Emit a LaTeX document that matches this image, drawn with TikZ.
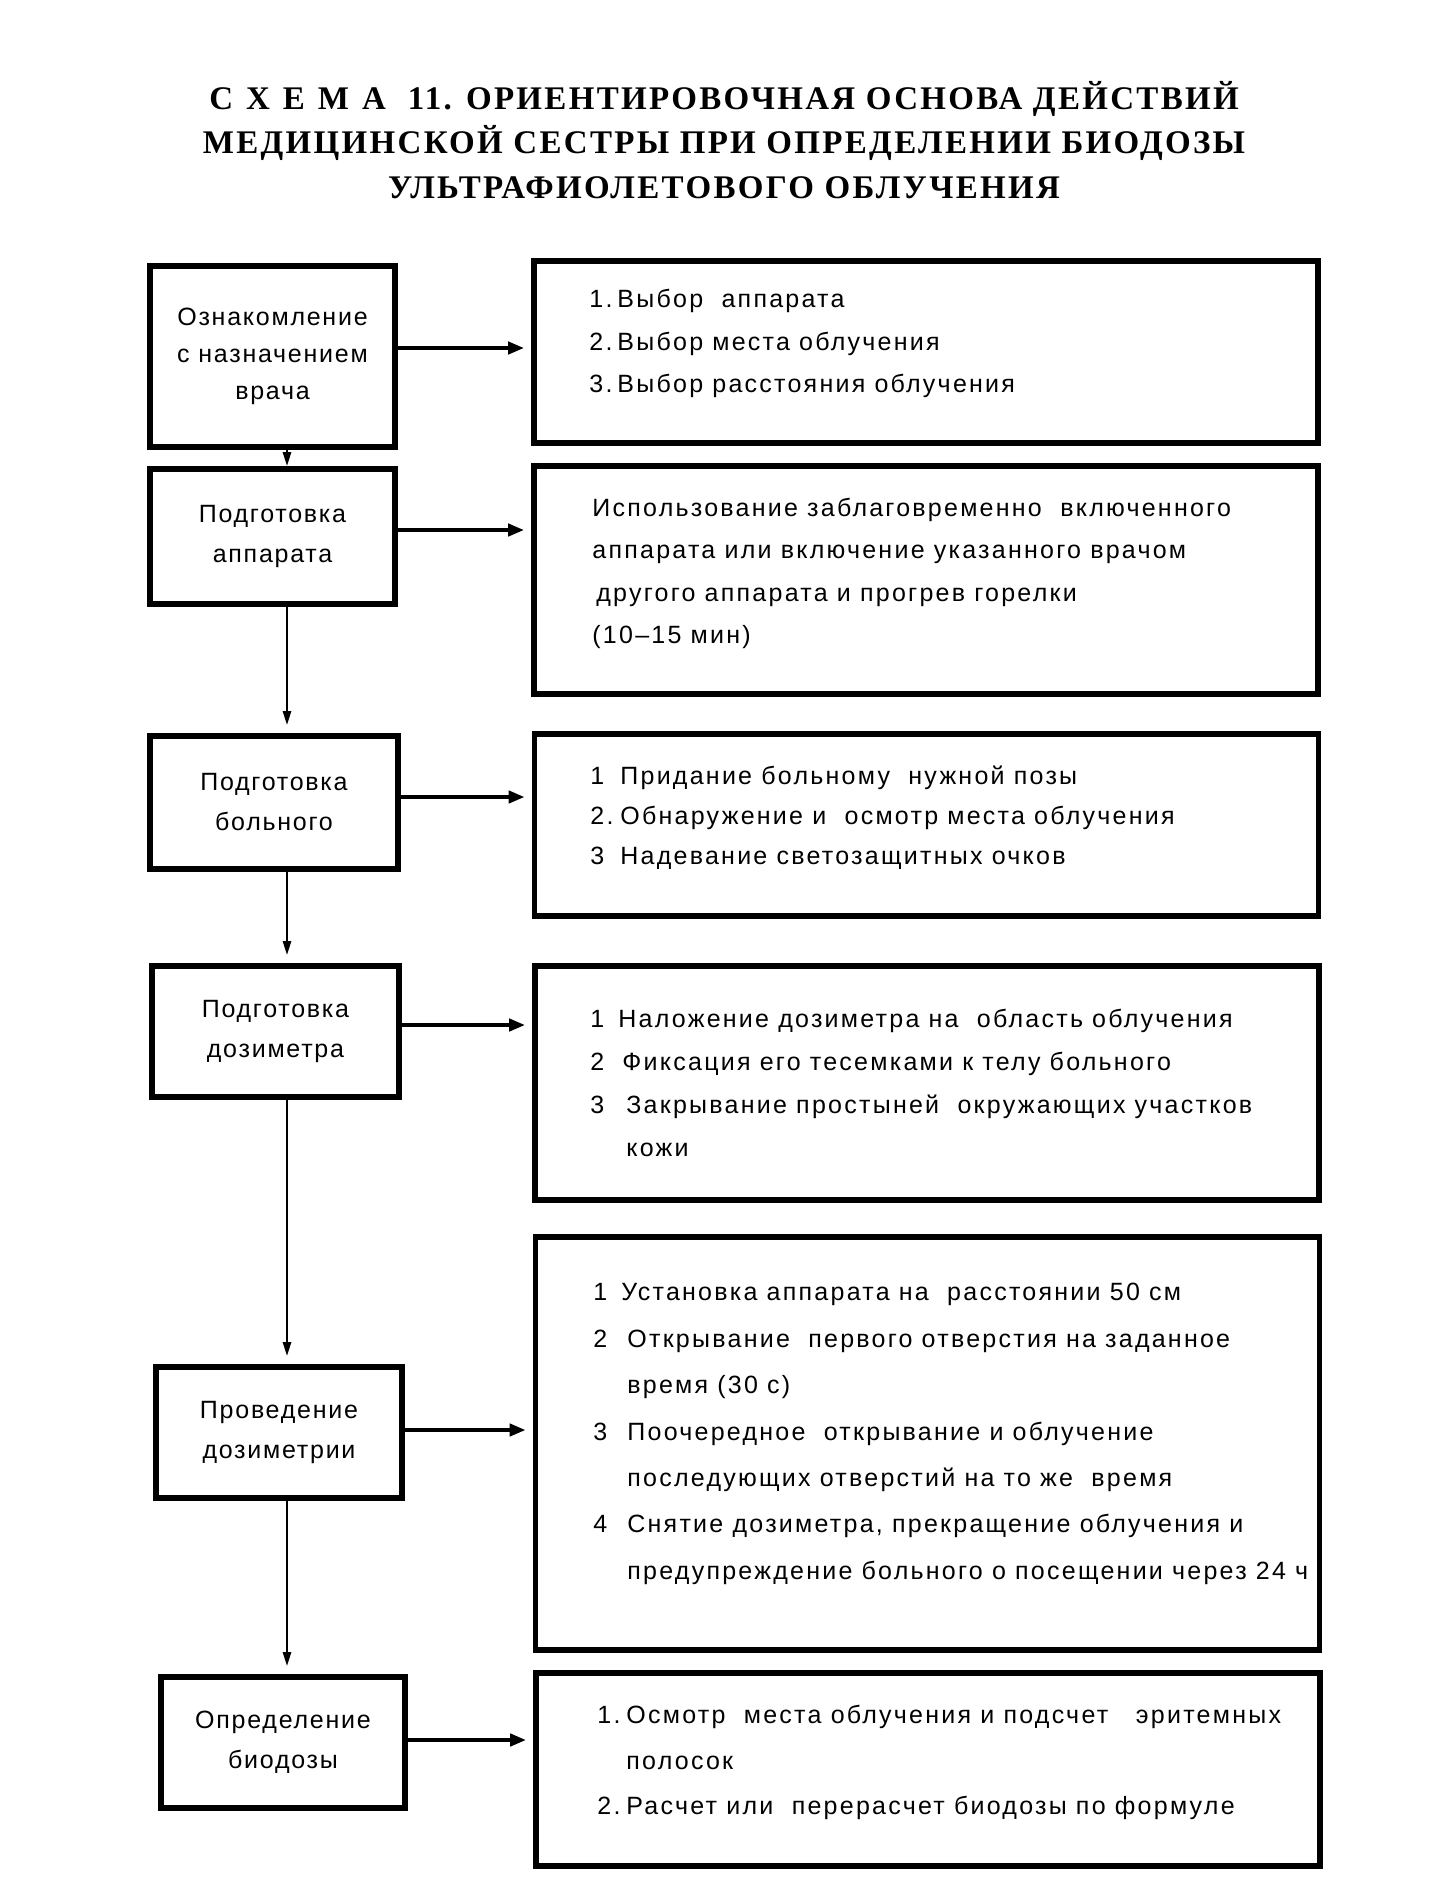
\documentclass[tikz,border=0pt]{standalone}
\usepackage{fontspec}
\setmainfont{Liberation Sans}
\newfontfamily\boxfont[LetterSpace=7]{Liberation Sans}
\newfontfamily\rfont[LetterSpace=9]{Liberation Sans}
\newfontfamily\titlefont[LetterSpace=7]{Liberation Serif}
\usetikzlibrary{arrows.meta}
\newcommand{\nb}[2]{\makebox[#1][l]{#2}}
\begin{document}
\begin{tikzpicture}[x=0.5pt,y=-0.5pt,
  lbox/.style={draw, line width=2.8pt, align=center, inner sep=0pt,
    font=\boxfont\fontsize{12.5}{20}\selectfont},
  rbox/.style={draw, line width=2.8pt, inner sep=0pt, minimum width=392pt},
  btext/.style={anchor=west, align=left, inner sep=0pt},
  harrow/.style={line width=2pt, -{Triangle[length=8pt,width=6pt]}, shorten >=3.5pt},
  varrow/.style={line width=1.2pt, -{Triangle[length=7pt,width=4pt]}},
]
\useasboundingbox (0,0) rectangle (1443,1903);

\node[align=center, inner sep=0pt, font=\titlefont\bfseries\fontsize{16.5}{22.25}\selectfont] (title) at (724,140)
  {С\hspace{6.5pt}Х\hspace{6.5pt}Е\hspace{6.5pt}М\hspace{6.5pt}А\hspace{11pt}11. ОРИЕНТИРОВОЧНАЯ ОСНОВА ДЕЙСТВИЙ\\
   МЕДИЦИНСКОЙ СЕСТРЫ ПРИ ОПРЕДЕЛЕНИИ БИОДОЗЫ\\
   УЛЬТРАФИОЛЕТОВОГО ОБЛУЧЕНИЯ};

% left boxes
\node[lbox, minimum width=122.5pt, minimum height=90.5pt, font=\boxfont\fontsize{12.5}{18.5}\selectfont] (L1) at (272.5,356.5) {Ознакомление\\с назначением\\врача};
\node[lbox, minimum width=122.5pt, minimum height=67.5pt] (L2) at (272.5,536.5) {Подготовка\\аппарата};
\node[lbox, minimum width=124pt, minimum height=66.5pt] (L3) at (274,802.5) {Подготовка\\больного};
\node[lbox, minimum width=123.5pt, minimum height=65.5pt] (L4) at (275.5,1031.5) {Подготовка\\дозиметра};
\node[lbox, minimum width=123pt, minimum height=65.5pt] (L5) at (279,1432.5) {Проведение\\дозиметрии};
\node[lbox, minimum width=122pt, minimum height=65.5pt] (L6) at (283,1742.5) {Определение\\биодозы};

% right boxes
\node[rbox, minimum height=91pt] (R1) at (926,352) {};
\node[rbox, minimum height=114pt] (R2) at (926,580) {};
\node[rbox, minimum height=91pt] (R3) at (926.5,825) {};
\node[rbox, minimum height=117pt] (R4) at (927,1083) {};
\node[rbox, minimum height=206.5pt] (R5) at (927.5,1443.5) {};
\node[rbox, minimum height=96.5pt] (R6) at (928,1769.5) {};

% right texts
\node[btext, font=\rfont\fontsize{12.5}{21.25}\selectfont] (T1) at (589,343.5)
  {\nb{14pt}{1.}Выбор\ \ аппарата\\
   \nb{14pt}{2.}Выбор места облучения\\
   \nb{14pt}{3.}Выбор расстояния облучения};
\node[btext, font=\rfont\fontsize{12.5}{21.2}\selectfont] (T2) at (592,573.5)
  {Использование заблаговременно\ \ включенного\\
   аппарата или включение указанного врачом\\
   \hspace*{2pt}другого аппарата и прогрев горелки\\
   (10–15 мин)};
\node[btext, font=\rfont\fontsize{12.5}{20}\selectfont] (T3) at (590,818)
  {\nb{15pt}{1}Придание больному\ \ нужной позы\\
   \nb{15pt}{2.}Обнаружение и\ \ осмотр места облучения\\
   \nb{15pt}{3}Надевание светозащитных очков};
\node[btext, font=\rfont\fontsize{12.5}{21.5}\selectfont] (T4) at (590,1082.5)
  {\nb{14pt}{1}Наложение дозиметра на\ \ область облучения\\
   \nb{16pt}{2}Фиксация его тесемками к телу больного\\
   \nb{18pt}{3}Закрывание простыней\ \ окружающих участков\\
   \hspace*{18pt}кожи};
\node[btext, font=\rfont\fontsize{12.5}{23.2}\selectfont] (T5) at (593,1434)
  {\nb{14pt}{1}Установка аппарата на\ \ расстоянии 50 см\\
   \nb{17pt}{2}Открывание\ \ первого отверстия на заданное\\
   \hspace*{17pt}время (30 с)\\
   \nb{17pt}{3}Поочередное\ \ открывание и облучение\\
   \hspace*{17pt}последующих отверстий на то же\ \ время\\
   \nb{17pt}{4}Снятие дозиметра, прекращение облучения и\\
   \hspace*{17pt}предупреждение больного о посещении через 24 ч};
\node[btext, font=\rfont\fontsize{12.5}{22.75}\selectfont] (T6) at (597,1762.5)
  {\nb{14.5pt}{1.}Осмотр\ \ места облучения и подсчет\ \ \ эритемных\\
   \hspace*{14.5pt}полосок\\
   \nb{14.5pt}{2.}Расчет или\ \ перерасчет биодозы по формуле};

% arrow helper coordinates
\coordinate (vx) at (287,0);
\coordinate (h1) at (0,348);
\coordinate (h2) at (0,530);
\coordinate (h3) at (0,797);
\coordinate (h4) at (0,1025);
\coordinate (h5) at (0,1430);
\coordinate (h6) at (0,1740);

% horizontal arrows
\draw[harrow] (L1.east |- h1) -- (R1.west |- h1);
\draw[harrow] (L2.east |- h2) -- (R2.west |- h2);
\draw[harrow] (L3.east |- h3) -- (R3.west |- h3);
\draw[harrow] (L4.east |- h4) -- (R4.west |- h4);
\draw[harrow] (L5.east |- h5) -- (R5.west |- h5);
\draw[harrow] (L6.east |- h6) -- (R6.west |- h6);

% vertical arrows
\draw[varrow] (L1.south -| vx) -- (L2.north -| vx);
\draw[varrow, shorten >=4pt] (L2.south -| vx) -- (L3.north -| vx);
\draw[varrow, shorten >=4pt] (L3.south -| vx) -- (L4.north -| vx);
\draw[varrow, shorten >=4pt] (L4.south -| vx) -- (L5.north -| vx);
\draw[varrow, shorten >=4pt] (L5.south -| vx) -- (L6.north -| vx);
\end{tikzpicture}
\end{document}
